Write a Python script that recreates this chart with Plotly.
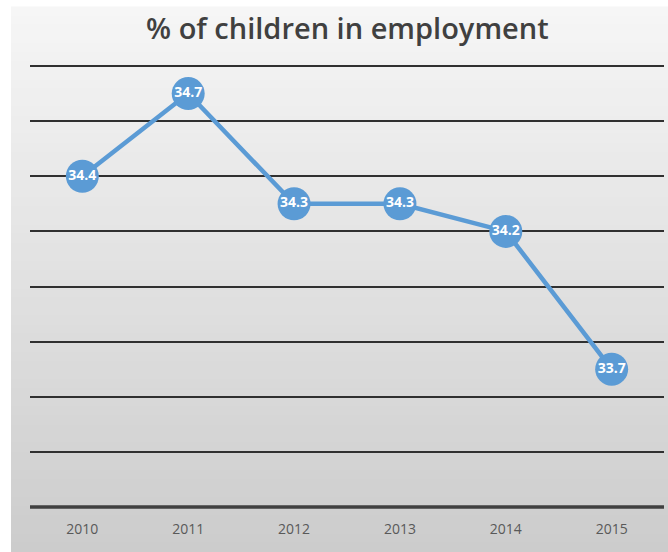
import plotly.graph_objects as go

years = ["2010", "2011", "2012", "2013", "2014", "2015"]
values = [34.4, 34.7, 34.3, 34.3, 34.2, 33.7]
labels = ["34.4", "34.7", "34.3", "34.3", "34.2", "33.7"]

W, H = 668, 552
ML, MR, MT, MB = 30, 4, 60, 45
PW = W - ML - MR
PH = H - MT - MB
# y range so that 34.8 sits at pixel 66 and 33.2 at pixel 507
ylo = 33.2
yhi = 33.2 + 1.6 * PH / (H - MB - 66)

def px_x(p):
    return (p - ML) / PW

def px_y(p):
    return (H - MB - p) / PH

# gradient background as stacked bands
shapes = []
top, bottom = 7, 552
n = 60
c0, c1 = 246, 204
for i in range(n):
    y0p = top + (bottom - top) * i / n
    y1p = top + (bottom - top) * (i + 1) / n
    t = (i + 0.5) / n
    c = int(round(c0 + (c1 - c0) * t))
    shapes.append(dict(type="rect", xref="paper", yref="paper",
                       x0=px_x(11), x1=px_x(669), y0=px_y(y1p) - 0.001, y1=px_y(y0p) + 0.001,
                       fillcolor=f"rgb({c},{c},{c})", line=dict(width=0), layer="below"))

fig = go.Figure()
fig.add_trace(go.Scatter(
    x=years, y=values, text=labels,
    mode="lines+markers+text",
    line=dict(color="#5B9BD5", width=4.5),
    marker=dict(size=33, color="#5B9BD5"),
    textposition="middle center",
    textfont=dict(color="white", size=14, family="Open Sans", weight="bold"),
    cliponaxis=False,
    hoverinfo="skip",
))

fig.update_layout(
    width=W, height=H,
    margin=dict(l=ML, r=MR, t=MT, b=MB),
    paper_bgcolor="white",
    plot_bgcolor="rgba(0,0,0,0)",
    shapes=shapes,
    showlegend=False,
    title=dict(text="% of children in employment", x=0.52, xanchor="center",
               y=1 - 29 / H, yanchor="middle", yref="container",
               font=dict(family="Open Sans", size=29, color="#404040", weight=600)),
    xaxis=dict(type="category", showgrid=False, zeroline=False,
               showline=False, ticks="", ticklabelstandoff=12,
               tickfont=dict(family="Open Sans", size=14, color="#595959")),
    yaxis=dict(range=[ylo, yhi], dtick=0.2, tick0=33.2, showgrid=True,
               gridcolor="#303030", gridwidth=1.5, showticklabels=False,
               zeroline=False, showline=False, ticks=""),
)

# thicker bottom axis line (paper-referenced so it is not clipped)
fig.add_shape(type="line", xref="paper", yref="paper", x0=0, x1=1, y0=0, y1=0,
              line=dict(color="#404040", width=3.5), layer="above")

fig.write_html("out.html")
